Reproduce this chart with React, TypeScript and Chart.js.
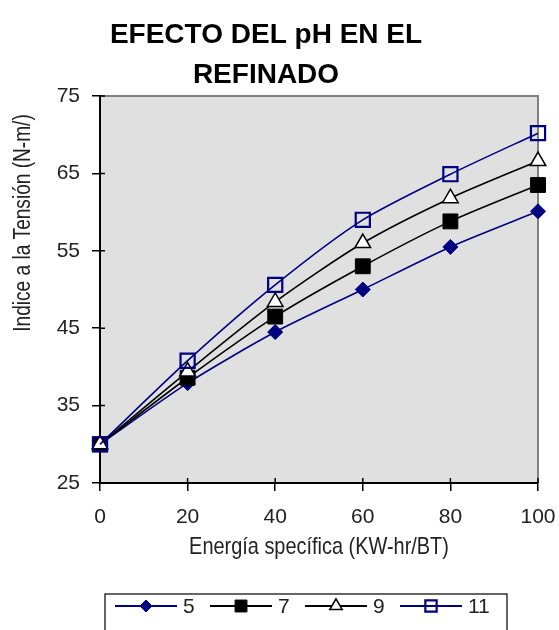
import React, { useEffect, useRef } from 'react';
import { Chart, registerables } from 'chart.js';

Chart.register(...registerables);

const TITLE_LINES = ['EFECTO DEL pH EN EL', 'REFINADO'];
const X_TITLE = 'Energía specífica (KW-hr/BT)';
const Y_TITLE = 'Indice a la Tensión (N-m/)';

const ENERGY = [0, 20, 40, 60, 80, 100];
const SERIES_LABELS = ['5', '7', '9', '11'];
const PH5 = [30, 37.9, 44.5, 50.0, 55.5, 60.1];
const PH7 = [30, 38.6, 46.5, 53.0, 58.8, 63.5];
const PH9 = [30, 39.4, 48.4, 56.0, 61.8, 66.6];
const PH11 = [30, 40.8, 50.6, 59.0, 64.9, 70.2];

const Y_MIN = 25;
const Y_MAX = 75;
const Y_STEP = 10;
const X_MIN = 0;
const X_MAX = 100;
const X_STEP = 20;

const NAVY = '#000080';
const FONT = "'Liberation Sans', Arial, sans-serif";

type Style = { shape: string; fill: string; stroke: string; lw: number; r: number; line: string };

const STYLES: Style[] = [
  { shape: 'diamond', fill: NAVY, stroke: NAVY, lw: 1, r: 7.5, line: NAVY },
  { shape: 'square', fill: '#000000', stroke: '#000000', lw: 1, r: 10.5, line: '#000000' },
  { shape: 'triangle', fill: '#ffffff', stroke: '#000000', lw: 1.5, r: 9, line: '#000000' },
  { shape: 'square', fill: 'rgba(0,0,0,0)', stroke: NAVY, lw: 2.2, r: 10, line: NAVY },
];

function drawMarker(ctx: CanvasRenderingContext2D, s: Style, x: number, y: number, k: number) {
  ctx.save();
  ctx.fillStyle = s.fill;
  ctx.strokeStyle = s.stroke;
  ctx.lineWidth = s.lw;
  ctx.beginPath();
  if (s.shape === 'diamond') {
    const r = s.r * k;
    ctx.moveTo(x, y - r);
    ctx.lineTo(x + r, y);
    ctx.lineTo(x, y + r);
    ctx.lineTo(x - r, y);
    ctx.closePath();
  } else if (s.shape === 'square') {
    const h = s.r * Math.SQRT1_2 * k;
    ctx.rect(x - h, y - h, 2 * h, 2 * h);
  } else {
    const r = s.r * k;
    ctx.moveTo(x, y - r);
    ctx.lineTo(x + r * 0.866, y + r * 0.5);
    ctx.lineTo(x - r * 0.866, y + r * 0.5);
    ctx.closePath();
  }
  ctx.fill();
  ctx.stroke();
  ctx.restore();
}

const decorPlugin = {
  id: 'decor',
  beforeDraw(chart: any) {
    const { ctx, chartArea: a } = chart;
    ctx.save();
    ctx.fillStyle = '#e0e0e0';
    ctx.fillRect(a.left, a.top, a.right - a.left, a.bottom - a.top);
    ctx.strokeStyle = '#808080';
    ctx.lineWidth = 2;
    ctx.beginPath();
    ctx.moveTo(a.left, a.top);
    ctx.lineTo(a.right, a.top);
    ctx.lineTo(a.right, a.bottom);
    ctx.stroke();
    ctx.restore();
  },
  afterDraw(chart: any) {
    const { ctx, chartArea: a } = chart;
    const xs = chart.scales.x;
    const ys = chart.scales.y;
    ctx.save();
    // inner tick marks
    ctx.strokeStyle = '#000';
    ctx.lineWidth = 1.5;
    ctx.beginPath();
    ys.ticks.forEach((t: any) => {
      const py = ys.getPixelForValue(t.value);
      ctx.moveTo(a.left, py);
      ctx.lineTo(a.left + 5, py);
    });
    xs.ticks.forEach((t: any) => {
      const px = xs.getPixelForValue(t.value);
      ctx.moveTo(px, a.bottom);
      ctx.lineTo(px, a.bottom - 5);
    });
    ctx.stroke();

    // title
    ctx.fillStyle = '#000';
    ctx.font = `bold 28px ${FONT}`;
    ctx.textAlign = 'center';
    ctx.textBaseline = 'alphabetic';
    ctx.fillText(TITLE_LINES[0], 266, 43);
    ctx.fillText(TITLE_LINES[1], 266, 83);

    // x title
    ctx.fillStyle = '#222';
    ctx.save();
    ctx.translate(319, 554);
    ctx.scale(0.83, 1);
    ctx.font = `24px ${FONT}`;
    ctx.fillText(X_TITLE, 0, 0);
    ctx.restore();

    // y title
    ctx.save();
    ctx.translate(30, 223);
    ctx.rotate(-Math.PI / 2);
    ctx.scale(0.83, 1);
    ctx.font = `23px ${FONT}`;
    ctx.fillText(Y_TITLE, 0, 0);
    ctx.restore();

    // legend
    ctx.strokeStyle = '#000';
    ctx.lineWidth = 1.2;
    ctx.strokeRect(105, 594, 402, 60);
    const lineStarts = [115, 210, 305, 400];
    const cy = 606;
    ctx.font = `21px ${FONT}`;
    ctx.textAlign = 'left';
    ctx.textBaseline = 'middle';
    lineStarts.forEach((x0, i) => {
      const s = STYLES[i];
      ctx.strokeStyle = s.line;
      ctx.lineWidth = 2;
      ctx.beginPath();
      ctx.moveTo(x0, cy);
      ctx.lineTo(x0 + 62, cy);
      ctx.stroke();
      drawMarker(ctx, s, x0 + 31, cy, 0.8);
      ctx.fillStyle = '#222';
      ctx.fillText(SERIES_LABELS[i], x0 + 68, cy + 1);
    });
    ctx.restore();
  },
};

export default function App() {
  const ref = useRef<HTMLCanvasElement | null>(null);
  useEffect(() => {
    document.body.style.margin = '0';
    const canvas = ref.current;
    if (!canvas) return;
    const values = [PH5, PH7, PH9, PH11];
    const pointStyles = ['rectRot', 'rect', 'triangle', 'rect'];
    const datasets = values.map((vals, i) => ({
      label: SERIES_LABELS[i],
      data: ENERGY.map((x, j) => ({ x, y: vals[j] })),
      borderColor: STYLES[i].line,
      borderWidth: 1.6,
      backgroundColor: STYLES[i].fill,
      pointStyle: pointStyles[i],
      pointRadius: STYLES[i].r,
      pointBorderColor: STYLES[i].stroke,
      pointBackgroundColor: STYLES[i].fill,
      pointBorderWidth: STYLES[i].lw,
      tension: 0.25,
      fill: false,
      clip: false,
      order: 4 - i,
    }));
    const chart = new Chart(canvas, {
      type: 'line',
      data: { datasets },
      options: {
        responsive: false,
        animation: false,
        layout: { padding: { top: 96, right: 21, left: 0, bottom: 0 } },
        plugins: { legend: { display: false }, title: { display: false }, tooltip: { enabled: false } },
        scales: {
          x: {
            type: 'linear',
            min: X_MIN,
            max: X_MAX,
            afterFit: (s: any) => { s.height = 147; s.paddingLeft = 0; s.paddingRight = 0; },
            ticks: { stepSize: X_STEP, color: '#222', font: { family: FONT, size: 21 }, padding: 14, maxRotation: 0 },
            grid: { display: true, drawOnChartArea: false, drawTicks: true, tickLength: 8, color: '#000', lineWidth: 1.5 },
            border: { display: true, color: '#000', width: 2 },
          },
          y: {
            type: 'linear',
            min: Y_MIN,
            max: Y_MAX,
            afterFit: (s: any) => { s.width = 100; s.paddingTop = 0; s.paddingBottom = 0; },
            ticks: { stepSize: Y_STEP, color: '#222', font: { family: FONT, size: 21 }, padding: 12 },
            grid: { display: true, drawOnChartArea: false, drawTicks: true, tickLength: 8, color: '#000', lineWidth: 1.5 },
            border: { display: true, color: '#000', width: 2 },
          },
        },
      },
      plugins: [decorPlugin],
    } as any);
    return () => chart.destroy();
  }, []);
  return <canvas ref={ref} width={559} height={630} style={{ display: 'block', width: 559, height: 630 }} />;
}
